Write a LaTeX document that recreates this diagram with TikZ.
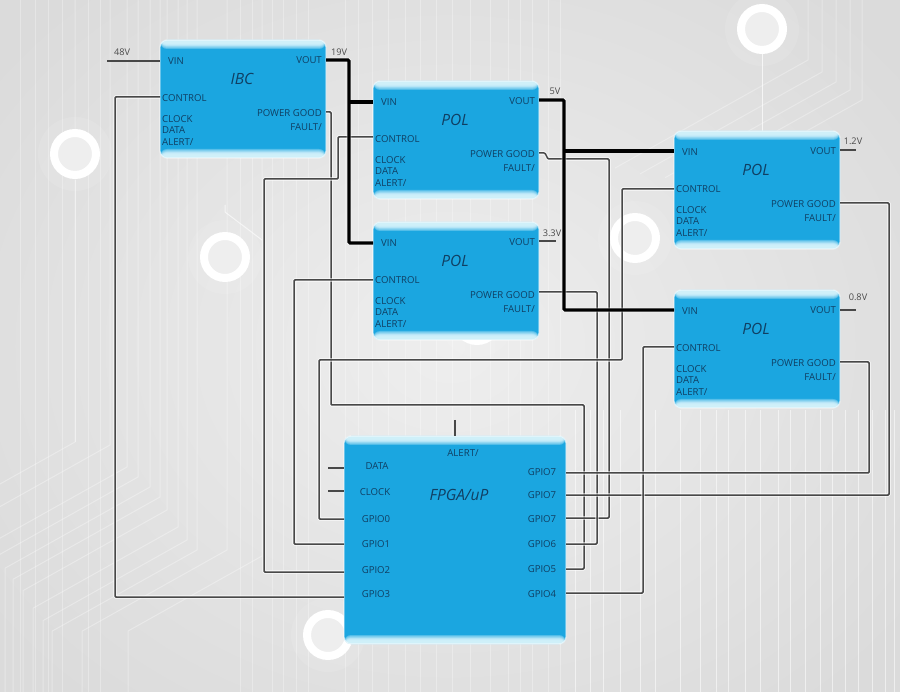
\documentclass[tikz,border=0pt]{standalone}
\usepackage{fontspec}
\setmainfont{Open Sans}
\definecolor{bodyblue}{HTML}{1BA6E0}
\definecolor{paleblue}{HTML}{D6F3FC}
\definecolor{labelink}{HTML}{103F63}
\definecolor{wiregray}{HTML}{484848}
\definecolor{bgmid}{HTML}{EEEEEE}
\definecolor{bgedge}{HTML}{DBDBDB}
\tikzset{
  blockbox/.style={anchor=north west,inner sep=0pt,outer sep=0pt,rounded corners=7pt,
    fill=bodyblue,draw=white,draw opacity=.55,line width=1.2pt,
    path picture={
      \foreach \h in {3,4,4,5,5,6,6,7,8,9}{
        \fill[paleblue,fill opacity=.3]
          (path picture bounding box.north west) rectangle ([yshift=-\h pt]path picture bounding box.north east);
        \fill[paleblue,fill opacity=.3]
          ([yshift=\h pt]path picture bounding box.south west) rectangle (path picture bounding box.south east);
      }
    }},
  portl/.style={anchor=west,inner sep=0pt,text=labelink,font=\fontsize{9.6}{10}\selectfont},
  portr/.style={anchor=east,inner sep=0pt,text=labelink,font=\fontsize{9.6}{10}\selectfont},
  portc/.style={anchor=center,inner sep=0pt,text=labelink,font=\fontsize{9.6}{10}\selectfont},
  volt/.style={anchor=center,inner sep=0pt,text=black!70,font=\fontsize{9.2}{10}\selectfont},
  titletext/.style={anchor=center,inner sep=0pt,text=labelink,font=\fontsize{15.5}{17}\selectfont\itshape},
  wire/.style={draw=wiregray,line width=1.5pt,rounded corners=1pt,
    preaction={draw=white,draw opacity=.55,line width=3.6pt}},
  stub/.style={draw=wiregray,line width=1.6pt},
  rail/.style={draw=black,line width=3.1pt,rounded corners=1pt,
    preaction={draw=white,draw opacity=.5,line width=4.8pt}},
  trace/.style={draw=white,draw opacity=.32,line width=1pt,line join=round},
  ringmark/.style={draw=white,line width=8pt,fill=bgmid},
  ringglow/.style={fill=white,fill opacity=.1},
}
\newcommand{\powerblock}[4]{%
  \node[blockbox,minimum width=166pt,minimum height=118pt] (#1) at (#2,#3) {};
  \node[titletext] (#1-title) at ([shift={(82,39)}]#1.north west) {#4};
  \node[portl] (#1-vin) at ([shift={(8,21)}]#1.north west) {VIN};
  \node[portl] (#1-control) at ([shift={(2,58.5)}]#1.north west) {CONTROL};
  \node[portl] (#1-clock) at ([shift={(2,79)}]#1.north west) {CLOCK};
  \node[portl] (#1-data) at ([shift={(2,90)}]#1.north west) {DATA};
  \node[portl] (#1-alert) at ([shift={(2,102)}]#1.north west) {ALERT/};
  \node[portr] (#1-vout) at ([shift={(162,20)}]#1.north west) {VOUT};
  \node[portr] (#1-pg) at ([shift={(162,73)}]#1.north west) {POWER GOOD};
  \node[portr] (#1-fault) at ([shift={(162,87)}]#1.north west) {FAULT/};
}
\begin{document}
\begin{tikzpicture}[x=1pt,y=-1pt]
\useasboundingbox (0,0) rectangle (900,692);
\begin{scope}
\clip (0,0) rectangle (900,692);
\shade[inner color=bgmid,outer color=bgedge] (-120,-120) rectangle (1020,812);
% circuit-board traces of the backdrop
\foreach \bx/\by/\ax in {75/442/-200,110/445/-200,127/467/-200,138/477/-200,150/487/5,160/497/13,167/510/23,178/527/33,187/540/43,197/550/52,227/550/82,262/556/128}{
  \draw[trace] (\bx,-2) -- (\bx,\by) -- (\ax,{\by+0.56*(\bx-\ax)}) -- (\ax,694);
}
\foreach \vx in {20,35,48,62,88,100,240,252,272,283,296,308,345,358,372,388,405,420,436,452,470,490,508,520,532,548,560}{
  \draw[trace,draw opacity=.3] (\vx,-2) -- (\vx,694);
}
\foreach \vx in {575,590,603,620,640,655,680,700,716,728,745,760,778,790,805,820,832,845,858,872,885,894}{
  \draw[trace,draw opacity=.55] (\vx,410) -- (\vx,694);
}
\foreach \tx/\ty/\lx in {808/60/615,822/72/640,836/82/665,850/90/690,862/100/720}{
  \draw[trace,draw opacity=.3] (\tx,-2) -- (\tx,\ty) -- (\lx,{\ty+0.56*(\tx-\lx)});
}
\draw[trace,draw opacity=.7] (762,50) -- (762,132);
\draw[trace,draw opacity=.4] (75,180) -- (75,442);
\draw[trace,draw opacity=.6] (225,205) -- (225,212) -- (262,240);
\foreach \cx/\cy in {75/154,225/257,762/29,635/238,328/635,477/320}{
  \fill[ringglow] (\cx,\cy) circle (37);
  \draw[ringmark] (\cx,\cy) circle (21);
}
\end{scope}

\powerblock{ibc}{160}{40}{IBC}
\powerblock{polA}{373}{81}{POL}
\powerblock{polB}{373}{222}{POL}
\powerblock{polC}{674}{131}{POL}
\powerblock{polD}{674}{290}{POL}

\node[blockbox,minimum width=222pt,minimum height=208pt] (fpga) at (344,436) {};
\node[titletext] (fpga-title) at (459,495) {FPGA/uP};
\node[portc] (fpga-alert) at (463,453) {ALERT/};
\node[portc] (fpga-data) at (377,466) {DATA};
\node[portc] (fpga-clock) at (375,492) {CLOCK};
\node[portc] (fpga-g0) at (376,519) {GPIO0};
\node[portc] (fpga-g1) at (376,544) {GPIO1};
\node[portc] (fpga-g2) at (376,570) {GPIO2};
\node[portc] (fpga-g3) at (376,594) {GPIO3};
\node[portc] (fpga-g7a) at (542,472) {GPIO7};
\node[portc] (fpga-g7b) at (542,495) {GPIO7};
\node[portc] (fpga-g7c) at (542,519) {GPIO7};
\node[portc] (fpga-g6) at (542,544) {GPIO6};
\node[portc] (fpga-g5) at (542,569) {GPIO5};
\node[portc] (fpga-g4) at (542,594) {GPIO4};

\node[volt] (v48) at (122,52) {48V};
\node[volt] (v19) at (339,52) {19V};
\node[volt] (v5) at (555,91) {5V};
\node[volt] (v33) at (552,233) {3.3V};
\node[volt] (v12) at (853,141) {1.2V};
\node[volt] (v08) at (858,297) {0.8V};

\coordinate (in48) at (107,61);
\coordinate (out33) at (556,241);
\coordinate (out12) at (856,150);
\coordinate (out08) at (856,310);
\coordinate (alertend) at (455,420);
\coordinate (dataend) at (328,468);
\coordinate (clockend) at (328,491);

% control and power-good wiring
\draw[wire] (ibc.west |- 0,97) -- (115,97) -- (115,597) -- (fpga.west |- 0,597);
\draw[wire] (ibc.east |- 0,112) -- (331,112) -- (331,405) -- (584,405) -- (584,569) -- (fpga.east |- 0,569);
\draw[wire] (polA.west |- 0,137) -- (338,137) -- (338,179) -- (264,179) -- (264,572) -- (fpga.west |- 0,572);
\draw[wire] (polA.east |- 0,153) -- (545,153) -- (548,159) -- (609,159) -- (609,518) -- (fpga.east |- 0,518);
\draw[wire] (polB.west |- 0,280) -- (294,280) -- (294,544) -- (fpga.west |- 0,544);
\draw[wire] (polB.east |- 0,292) -- (597,292) -- (597,544) -- (fpga.east |- 0,544);
\draw[wire] (polC.west |- 0,189) -- (622,189) -- (622,360) -- (319,360) -- (319,519) -- (fpga.west |- 0,519);
\draw[wire] (polC.east |- 0,203) -- (889,203) -- (889,495) -- (fpga.east |- 0,495);
\draw[wire] (polD.west |- 0,347) -- (643,347) -- (643,593) -- (fpga.east |- 0,593);
\draw[wire] (polD.east |- 0,362) -- (869,362) -- (869,473) -- (fpga.east |- 0,473);

% short stubs
\draw[stub] (in48) -- (ibc.west |- in48);
\draw[stub,line width=2.2pt] (polB.east |- out33) -- (out33);
\draw[stub] (polC.east |- out12) -- (out12);
\draw[stub] (polD.east |- out08) -- (out08);
\draw[stub] (alertend) -- (alertend |- fpga.north);
\draw[stub] (dataend) -- (fpga.west |- dataend);
\draw[stub] (clockend) -- (fpga.west |- clockend);

% power rails
\draw[rail] (ibc.east |- 0,60) -- (349,60) -- (349,243) -- (polB.west |- 0,243);
\draw[rail] (349,102) -- (polA.west |- 0,102);
\draw[rail] (polA.east |- 0,100) -- (564,100) -- (564,310) -- (polD.west |- 0,310);
\draw[rail] (564,151) -- (polC.west |- 0,151);
\end{tikzpicture}
\end{document}
